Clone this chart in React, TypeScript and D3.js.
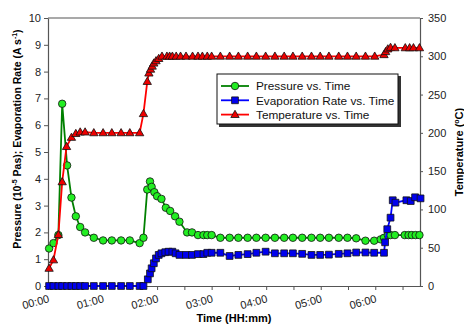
import React, { useEffect, useRef } from "react";
import * as d3 from "d3";

// times in hours since start
const pressureTime = [0.02, 0.1, 0.19, 0.26, 0.35, 0.43, 0.51, 0.59, 0.68, 0.84, 1.01, 1.17, 1.34, 1.5, 1.68, 1.75, 1.82, 1.87, 1.9, 1.95, 2.0, 2.08, 2.16, 2.24, 2.33, 2.41, 2.55, 2.64, 2.75, 2.85, 2.92, 3.0, 3.16, 3.33, 3.49, 3.66, 3.82, 3.99, 4.16, 4.33, 4.49, 4.66, 4.83, 4.99, 5.15, 5.33, 5.49, 5.65, 5.82, 5.98, 6.1, 6.16, 6.23, 6.28, 6.36, 6.54, 6.61, 6.67, 6.74, 6.81];
const pressureValue = [1.4, 1.6, 1.9, 6.8, 4.5, 3.3, 2.6, 2.2, 2.0, 1.8, 1.7, 1.7, 1.7, 1.7, 1.6, 1.8, 3.6, 3.9, 3.7, 3.5, 3.35, 3.25, 2.92, 2.8, 2.6, 2.4, 2.0, 2.0, 1.9, 1.9, 1.9, 1.9, 1.8, 1.8, 1.8, 1.8, 1.8, 1.8, 1.8, 1.8, 1.8, 1.8, 1.8, 1.8, 1.8, 1.8, 1.8, 1.78, 1.69, 1.69, 1.74, 1.8, 1.9, 1.9, 1.9, 1.9, 1.9, 1.9, 1.9, 1.9];

const evapTime = [0.02, 0.1, 0.19, 0.26, 0.35, 0.43, 0.51, 0.59, 0.68, 0.84, 1.01, 1.17, 1.34, 1.5, 1.68, 1.75, 1.83, 1.87, 1.9, 1.94, 1.98, 2.03, 2.08, 2.15, 2.21, 2.28, 2.34, 2.41, 2.53, 2.64, 2.75, 2.85, 2.92, 3.0, 3.16, 3.33, 3.49, 3.66, 3.82, 3.99, 4.16, 4.33, 4.49, 4.66, 4.83, 4.99, 5.15, 5.33, 5.49, 5.65, 5.82, 5.98, 6.16, 6.18, 6.22, 6.28, 6.32, 6.37, 6.57, 6.65, 6.73, 6.83];
const evapValue = [0, 0, 0, 0, 0, 0, 0, 0, 0, 0, 0, 0, 0, 0, 0, 0, 0.25, 0.47, 0.66, 0.85, 1.03, 1.16, 1.22, 1.26, 1.28, 1.28, 1.22, 1.16, 1.16, 1.16, 1.19, 1.19, 1.24, 1.24, 1.24, 1.12, 1.16, 1.19, 1.24, 1.28, 1.22, 1.22, 1.22, 1.2, 1.16, 1.16, 1.17, 1.2, 1.22, 1.25, 1.25, 1.24, 1.24, 1.63, 2.12, 2.55, 3.2, 3.11, 3.2, 3.17, 3.31, 3.27];

const tempTime = [0.02, 0.1, 0.19, 0.26, 0.34, 0.43, 0.51, 0.59, 0.68, 0.84, 1.01, 1.17, 1.34, 1.5, 1.68, 1.75, 1.82, 1.85, 1.88, 1.91, 1.94, 1.98, 2.03, 2.09, 2.18, 2.23, 2.28, 2.35, 2.43, 2.53, 2.65, 2.75, 2.83, 2.92, 3.0, 3.16, 3.33, 3.49, 3.66, 3.82, 3.99, 4.16, 4.33, 4.49, 4.66, 4.83, 4.99, 5.15, 5.33, 5.49, 5.65, 5.82, 5.99, 6.16, 6.19, 6.23, 6.28, 6.36, 6.55, 6.63, 6.7, 6.81];
const tempValue = [23, 34, 67, 136, 182, 194, 199, 201, 201, 200, 200, 200, 200, 200, 200, 225, 267, 278, 283, 287, 291, 294, 297, 300, 300, 300, 300, 300, 300, 300, 300, 300, 300, 300, 300, 300, 300, 300, 300, 300, 300, 300, 300, 300, 300, 300, 300, 300, 300, 300, 300, 300, 300, 302, 306, 309.5, 311.5, 311, 311, 311, 311, 311];

const hourTicks = [0, 1, 2, 3, 4, 5, 6];
const halfHourTicks = [0, 0.5, 1, 1.5, 2, 2.5, 3, 3.5, 4, 4.5, 5, 5.5, 6, 6.5];
const leftTicks = [0, 1, 2, 3, 4, 5, 6, 7, 8, 9, 10];
const rightTicks = [0, 50, 100, 150, 200, 250, 300, 350];
const legendLabels = ["Pressure vs. Time", "Evaporation Rate vs. Time", "Temperature vs. Time"];

const FONT = "Arial, 'Liberation Sans', sans-serif";

const App = () => {
  const ref = useRef<SVGSVGElement>(null);

  useEffect(() => {
    const width = 464;
    const height = 325;
    const margin = { top: 18, right: 44, bottom: 39, left: 48 };

    const svg = d3.select(ref.current);
    svg.selectAll("*").remove();

    const x = d3.scaleLinear().domain([0, 6.82]).range([margin.left, width - margin.right]);
    const yL = d3.scaleLinear().domain([0, 10]).range([height - margin.bottom, margin.top]);
    const yR = d3.scaleLinear().domain([0, 350]).range([height - margin.bottom, margin.top]);

    const axisColor = "#555";

    // left axis
    const gL = svg.append("g")
      .attr("transform", `translate(${margin.left},0)`)
      .call(d3.axisLeft(yL).tickValues(leftTicks).tickSize(4).tickSizeOuter(0).tickPadding(3));
    // right axis
    const gR = svg.append("g")
      .attr("transform", `translate(${width - margin.right},0)`)
      .call(d3.axisRight(yR).tickValues(rightTicks).tickSize(3).tickSizeOuter(0).tickPadding(5));
    // bottom axis
    const gB = svg.append("g")
      .attr("transform", `translate(0,${height - margin.bottom})`)
      .call(d3.axisBottom(x).tickValues(halfHourTicks).tickSize(4).tickSizeOuter(0).tickFormat(() => ""));

    [gL, gR, gB].forEach((g) => {
      g.select(".domain").attr("stroke", axisColor).attr("stroke-width", 1.2);
      g.selectAll(".tick line").attr("stroke", axisColor);
      g.selectAll(".tick text").attr("font-family", FONT).attr("font-size", 11).attr("fill", "#222");
    });

    // top frame line
    svg.append("line")
      .attr("x1", margin.left).attr("x2", width - margin.right)
      .attr("y1", margin.top).attr("y2", margin.top)
      .attr("stroke", axisColor).attr("stroke-width", 1.2);

    // rotated hour labels
    svg.append("g").selectAll("text")
      .data(hourTicks)
      .enter()
      .append("text")
      .attr("transform", (d) => `translate(${x(d) + 2},${height - margin.bottom + 16}) rotate(-15)`)
      .attr("text-anchor", "end")
      .attr("font-family", FONT)
      .attr("font-size", 11)
      .attr("fill", "#222")
      .text((d) => `0${d}:00`);

    // axis titles
    svg.append("text")
      .attr("x", (margin.left + width - margin.right) / 2)
      .attr("y", 322)
      .attr("text-anchor", "middle")
      .attr("font-family", FONT)
      .attr("font-size", 11)
      .attr("font-weight", "bold")
      .text("Time (HH:mm)");

    const leftTitle = svg.append("text")
      .attr("transform", "translate(21,139) rotate(-90)")
      .attr("text-anchor", "middle")
      .attr("font-family", FONT)
      .attr("font-size", 10.5)
      .attr("font-weight", "bold");
    leftTitle.append("tspan").text("Pressure (10");
    leftTitle.append("tspan").attr("dy", -4).attr("font-size", 7).text("-5");
    leftTitle.append("tspan").attr("dy", 4).text(" Pas); Evaporation Rate (A s");
    leftTitle.append("tspan").attr("dy", -4).attr("font-size", 7).text("-1");
    leftTitle.append("tspan").attr("dy", 4).text(")");

    const rightTitle = svg.append("text")
      .attr("transform", "translate(463,152) rotate(-90)")
      .attr("text-anchor", "middle")
      .attr("font-family", FONT)
      .attr("font-size", 11)
      .attr("font-weight", "bold");
    rightTitle.append("tspan").text("Temperature (");
    rightTitle.append("tspan").attr("dy", -4).attr("font-size", 7).text("o");
    rightTitle.append("tspan").attr("dy", 4).text("C)");

    // series
    const series = [
      { t: pressureTime, v: pressureValue, y: yL, line: "#008000", fill: "#22ee22", shape: "circle" },
      { t: evapTime, v: evapValue, y: yL, line: "#0000ff", fill: "#0000ee", shape: "square" },
      { t: tempTime, v: tempValue, y: yR, line: "#ff0000", fill: "#ee0000", shape: "triangle" },
    ];

    const symbolFor = (shape: string) =>
      shape === "circle" ? d3.symbol(d3.symbolCircle, 44)
        : shape === "square" ? d3.symbol(d3.symbolSquare, 46)
          : d3.symbol(d3.symbolTriangle, 30);

    series.forEach((s) => {
      const pts = s.t.map((t, i) => [x(t), s.y(s.v[i])] as [number, number]);
      svg.append("path")
        .attr("d", d3.line()(pts))
        .attr("fill", "none")
        .attr("stroke", s.line)
        .attr("stroke-width", 1.8);
      svg.append("g").selectAll("path")
        .data(pts)
        .enter()
        .append("path")
        .attr("transform", (d) => `translate(${d[0]},${d[1] + (s.shape === "triangle" ? 0.5 : 0)})`)
        .attr("d", symbolFor(s.shape)())
        .attr("fill", s.fill)
        .attr("stroke", "#111")
        .attr("stroke-width", 0.8);
    });

    // legend
    const lg = svg.append("g").attr("transform", "translate(217,74)");
    lg.append("rect").attr("x", 2).attr("y", 2).attr("width", 182).attr("height", 51).attr("fill", "#333");
    lg.append("rect").attr("x", 0).attr("y", 0).attr("width", 181).attr("height", 50)
      .attr("fill", "white").attr("stroke", "#111").attr("stroke-width", 1);
    series.forEach((s, i) => {
      const yy = 12 + i * 14.3;
      lg.append("line").attr("x1", 4).attr("x2", 32).attr("y1", yy).attr("y2", yy)
        .attr("stroke", s.line).attr("stroke-width", 1.8);
      lg.append("path")
        .attr("transform", `translate(18,${yy + (s.shape === "triangle" ? 0.5 : 0)})`)
        .attr("d", symbolFor(s.shape)())
        .attr("fill", s.fill).attr("stroke", "#111").attr("stroke-width", 0.8);
      lg.append("text")
        .attr("x", 39).attr("y", yy + 4.2)
        .attr("font-family", FONT).attr("font-size", 11.8).attr("fill", "#111")
        .text(legendLabels[i]);
    });
  }, []);

  return <svg ref={ref} width={464} height={325} style={{ position: "absolute", left: 0, top: 0, background: "white" }} />;
};

export default App;
